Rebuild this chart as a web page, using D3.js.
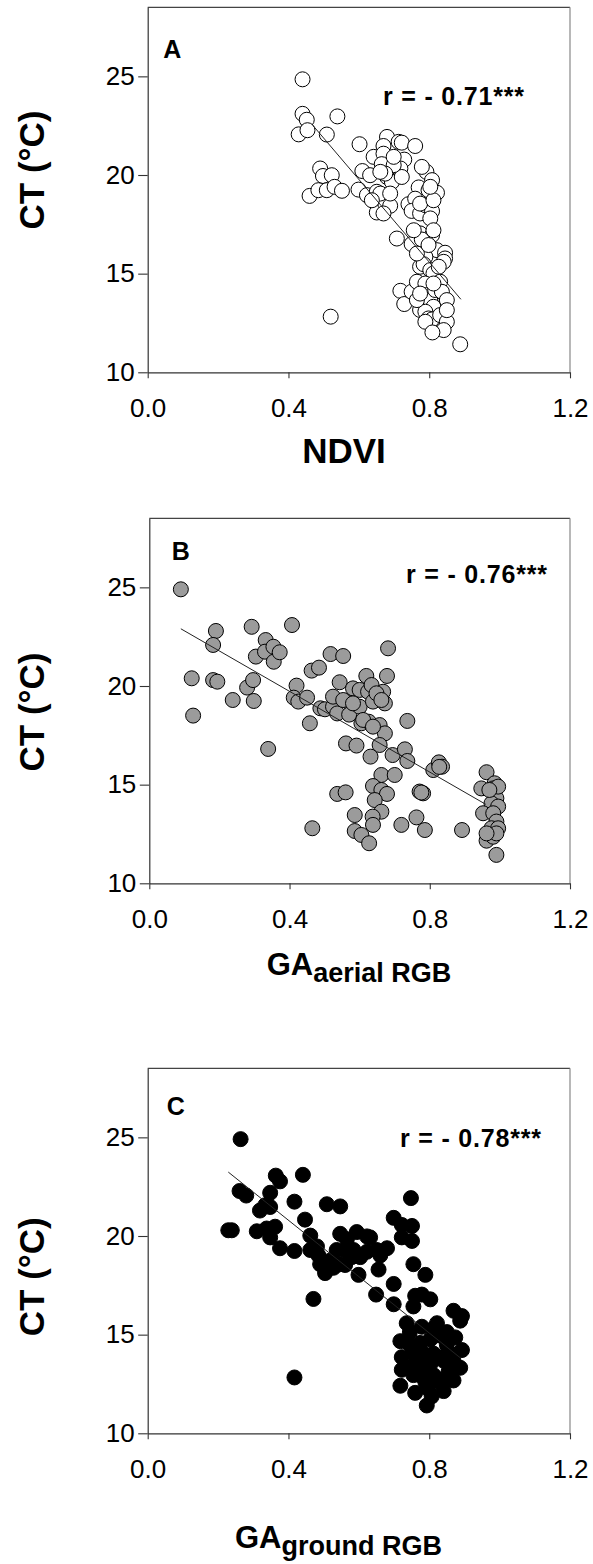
<!DOCTYPE html>
<html>
<head>
<meta charset="utf-8">
<script src="https://cdn.jsdelivr.net/npm/d3@7"></script>
<style>
body { margin: 0; background: #fff; }
svg { display: block; }
text { font-family: "Liberation Sans", Arial, sans-serif; fill: #000; }
</style>
</head>
<body>
<svg id="chart" width="593" height="1564"></svg>
<script>

// tick values shared by the three panels
var xTicks = [0, 0.4, 0.8, 1.2];
var yTicks = [10, 15, 20, 25];

// panel A: NDVI vs canopy temperature
var pointsA = [[0.44,24.85],[0.44,23.1],[0.452,22.8],[0.539,22.97],[0.429,22.06],[0.454,22.27],[0.509,22.05],[0.602,21.56],[0.68,21.93],[0.67,21.47],[0.713,21.68],[0.722,21.64],[0.76,21.47],[0.642,20.92],[0.729,20.78],[0.67,21.08],[0.49,20.33],[0.498,19.95],[0.523,19.99],[0.46,18.94],[0.485,19.23],[0.509,19.23],[0.531,19.4],[0.552,19.2],[0.61,20.2],[0.632,19.99],[0.599,19.26],[0.623,18.98],[0.651,19.15],[0.665,20.55],[0.68,19.9],[0.694,19.65],[0.661,18.77],[0.651,18.1],[0.675,18.55],[0.689,18.44],[0.718,20.33],[0.722,19.9],[0.699,20.5],[0.792,20.16],[0.808,19.74],[0.77,19.37],[0.798,19.23],[0.822,19.1],[0.741,18.52],[0.76,18.8],[0.75,18.18],[0.774,18.05],[0.789,18.47],[0.808,18.17],[0.803,17.8],[0.774,17.04],[0.808,16.95],[0.708,16.78],[0.75,16.5],[0.779,16.73],[0.822,16.19],[0.845,16.06],[0.845,15.77],[0.841,15.6],[0.789,15.85],[0.774,15.35],[0.784,15.48],[0.803,15.18],[0.812,15.01],[0.718,14.13],[0.729,13.46],[0.75,14.08],[0.765,14.59],[0.774,13.16],[0.789,14.5],[0.792,13.91],[0.803,13.66],[0.817,14.17],[0.831,14.59],[0.836,14.08],[0.841,13.32],[0.812,13.32],[0.789,13.07],[0.798,12.73],[0.808,12.68],[0.789,12.56],[0.831,12.9],[0.85,12.56],[0.841,12.14],[0.809,12.02],[0.888,11.42],[0.52,12.82],[0.765,13.66],[0.85,13.66],[0.765,16.02],[0.756,17.2],[0.798,16.45],[0.812,17.2],[0.661,19.06],[0.689,19.06],[0.675,20.07],[0.827,15.35],[0.85,13.15],[0.774,13.99],[0.812,14.5],[0.774,18.55],[0.812,18.72],[0.779,20.41],[0.803,19.4],[0.699,20.92],[0.661,20.16],[0.637,18.72],[0.67,18.05]];

// panel B: GA aerial RGB vs canopy temperature
var pointsB = [[0.09,24.9],[0.19,22.79],[0.182,22.08],[0.121,20.39],[0.182,20.3],[0.194,20.22],[0.125,18.5],[0.238,19.29],[0.279,19.92],[0.296,20.3],[0.298,19.24],[0.292,23.0],[0.332,22.33],[0.304,21.49],[0.33,21.74],[0.354,21.99],[0.355,21.23],[0.372,21.71],[0.339,16.81],[0.407,23.09],[0.42,20.02],[0.412,19.41],[0.425,19.21],[0.45,19.41],[0.463,20.78],[0.484,20.93],[0.458,18.11],[0.465,12.79],[0.488,18.87],[0.501,18.82],[0.517,21.62],[0.553,21.52],[0.524,18.95],[0.536,18.61],[0.543,20.19],[0.567,19.21],[0.57,18.55],[0.581,19.88],[0.6,19.8],[0.6,18.95],[0.619,20.51],[0.624,19.71],[0.634,20.05],[0.638,19.21],[0.605,18.11],[0.626,18.19],[0.657,18.02],[0.672,17.6],[0.667,19.71],[0.672,19.12],[0.678,20.51],[0.681,21.91],[0.657,17.01],[0.561,17.09],[0.591,16.98],[0.631,16.42],[0.694,16.5],[0.729,16.79],[0.736,18.23],[0.736,16.2],[0.662,15.49],[0.7,15.49],[0.638,14.93],[0.662,14.73],[0.678,14.53],[0.643,14.22],[0.662,13.63],[0.637,13.38],[0.638,12.96],[0.536,14.53],[0.56,14.61],[0.586,13.46],[0.586,12.65],[0.605,12.45],[0.627,12.03],[0.719,12.96],[0.762,13.34],[0.771,14.65],[0.781,14.56],[0.786,12.7],[0.81,15.74],[0.826,16.13],[0.835,15.91],[0.892,12.7],[0.962,15.63],[0.947,14.81],[0.985,15.07],[0.981,14.81],[0.99,14.31],[0.976,14.05],[0.995,13.89],[0.952,13.55],[0.981,13.55],[0.99,13.13],[0.976,12.79],[0.995,12.79],[0.962,12.16],[0.981,12.36],[0.99,11.44],[0.99,12.53],[0.995,14.9],[0.97,14.73],[0.962,12.53],[0.524,19.46],[0.553,19.29],[0.581,19.12],[0.61,18.28],[0.638,17.94],[0.648,19.63],[0.662,19.29],[0.827,15.9],[0.776,14.6]];

// panel C: GA ground RGB vs canopy temperature
var pointsC = [[0.264,24.91],[0.229,20.29],[0.239,20.29],[0.261,22.28],[0.28,22.05],[0.31,20.24],[0.319,21.29],[0.334,21.56],[0.348,22.19],[0.348,21.47],[0.348,19.93],[0.362,20.47],[0.364,23.06],[0.376,22.77],[0.376,19.38],[0.417,21.74],[0.417,19.24],[0.441,23.1],[0.447,20.83],[0.462,20.02],[0.462,19.29],[0.471,16.81],[0.417,12.83],[0.485,19.02],[0.49,18.57],[0.504,18.12],[0.509,21.61],[0.547,21.5],[0.518,18.75],[0.537,19.29],[0.547,20.11],[0.561,19.29],[0.561,18.53],[0.566,19.84],[0.594,20.2],[0.599,18.03],[0.623,19.98],[0.632,19.93],[0.623,19.2],[0.651,19.29],[0.656,18.3],[0.661,19.02],[0.68,19.38],[0.649,17.03],[0.699,17.57],[0.699,16.54],[0.699,20.92],[0.722,20.56],[0.722,19.93],[0.751,20.51],[0.751,19.75],[0.748,21.92],[0.755,18.57],[0.76,16.97],[0.755,16.43],[0.779,17.03],[0.789,18.03],[0.803,16.79],[0.869,16.21],[0.893,15.94],[0.888,15.71],[0.718,14.67],[0.736,15.58],[0.745,14.49],[0.722,13.86],[0.722,13.22],[0.718,12.41],[0.755,12.95],[0.76,12.05],[0.774,13.68],[0.779,15.4],[0.789,12.59],[0.793,11.41],[0.798,12.23],[0.812,14.04],[0.822,15.58],[0.822,12.77],[0.831,14.95],[0.836,13.86],[0.841,12.14],[0.85,14.49],[0.855,13.13],[0.869,12.68],[0.874,14.86],[0.893,14.22],[0.888,13.32],[0.803,14.76],[0.803,13.5],[0.774,14.58],[0.86,14.04],[0.812,15.31],[0.76,13.5],[0.774,12.95],[0.812,12.95],[0.841,13.68],[0.736,13.32],[0.745,15.13],[0.831,12.59],[0.85,15.13],[0.755,14.04],[0.784,14.04],[0.807,11.87],[0.585,19.29],[0.604,18.93],[0.547,18.57],[0.528,18.39],[0.58,18.93],[0.481,19.47],[0.338,20.38],[0.822,13.86],[0.789,13.13],[0.869,13.68]];

// fitted regression lines (end points)
var fitA = [[0.47, 22.5], [0.89, 13.7]];
var fitB = [[0.09, 22.9], [0.96, 14.0]];
var fitC = [[0.229, 23.24], [0.89, 13.8]];

var rLabels = ["r = - 0.71***", "r = - 0.76***", "r = - 0.78***"];
var panelLetters = ["A", "B", "C"];
var yTitle = "CT (°C)";
var xTitleMain = ["NDVI", "GA", "GA"];
var xTitleSub = ["", "aerial RGB", "ground RGB"];

// layout of each panel on the page
var panels = [
	{ pts: pointsA, fit: fitA, fill: "#ffffff", left: 147.7, top: 7.3, bottom: 372.3,
		letter: [163.3, 58.3], rPos: [383, 104.7], yTitleY: 170, xTitle: [344, 463.3], mid: true },
	{ pts: pointsB, fit: fitB, fill: "#9b9b9b", left: 149.3, top: 518.3, bottom: 883.3,
		letter: [171.7, 560], rPos: [406, 583.3], yTitleY: 712, xTitle: [266.7, 975], mid: false },
	{ pts: pointsC, fit: fitC, fill: "#000000", left: 147.7, top: 1068.3, bottom: 1433.3,
		letter: [166.7, 1115], rPos: [400, 1147.3], yTitleY: 1276.7, xTitle: [235, 1548.3], mid: false }
];

var right = 570;
var svg = d3.select("#chart");

panels.forEach(function(p, i) {

	var x = d3.scaleLinear().domain([0, 1.2]).range([p.left, right]);
	var y = d3.scaleLinear().domain([10, 28.5]).range([p.bottom, p.top]);

	var g = svg.append("g").attr("class", "panel" + i);

	//frame: top and right are drawn lighter than the axes
	g.append("line").attr("x1", p.left).attr("x2", right).attr("y1", p.top).attr("y2", p.top)
		.attr("stroke", "#444").attr("stroke-width", 1.2);
	g.append("line").attr("x1", right).attr("x2", right).attr("y1", p.top).attr("y2", p.bottom)
		.attr("stroke", "#888").attr("stroke-width", 1.2);

	var xAxis = d3.axisBottom(x)
		.tickValues(xTicks)
		.tickSize(6)
		.tickSizeOuter(0)
		.tickPadding(20)
		.tickFormat(d3.format(".1f"));

	var yAxis = d3.axisLeft(y)
		.tickValues(yTicks)
		.tickSize(9.5)
		.tickSizeOuter(0)
		.tickPadding(3.5)
		.tickFormat(d3.format("d"));

	var gx = g.append("g")
		.attr("transform", "translate(0," + p.bottom + ")")
		.call(xAxis);

	var gy = g.append("g")
		.attr("transform", "translate(" + p.left + ",0)")
		.call(yAxis);

	[gx, gy].forEach(function(ax) {
		ax.select(".domain").attr("stroke", "#333").attr("stroke-width", 1.2);
		ax.selectAll(".tick line").attr("stroke", "#333").attr("stroke-width", 1.1);
		ax.selectAll(".tick text")
			.attr("fill", "#000")
			.style("font-size", "26px")
			.style("font-family", "'Liberation Sans', Arial, sans-serif");
	});

	//points
	g.append("g")
		.selectAll("circle")
		.data(p.pts)
		.enter()
		.append("circle")
		.attr("cx", d => x(d[0]))
		.attr("cy", d => y(d[1]))
		.attr("r", 7.5)
		.attr("fill", p.fill)
		.attr("stroke", "#000")
		.attr("stroke-width", 1);

	//regression line
	g.append("line")
		.attr("x1", x(p.fit[0][0])).attr("y1", y(p.fit[0][1]))
		.attr("x2", x(p.fit[1][0])).attr("y2", y(p.fit[1][1]))
		.attr("stroke", "#222")
		.attr("stroke-width", 1);

	//panel letter
	g.append("text")
		.attr("x", p.letter[0])
		.attr("y", p.letter[1])
		.attr("font-size", 25)
		.attr("font-weight", "bold")
		.text(panelLetters[i]);

	//correlation label
	g.append("text")
		.attr("x", p.rPos[0])
		.attr("y", p.rPos[1])
		.attr("font-size", 25)
		.attr("font-weight", "bold")
		.attr("letter-spacing", 0.8)
		.text(rLabels[i]);

	//y title
	g.append("text")
		.attr("transform", "translate(43.5," + p.yTitleY + ") rotate(-90)")
		.attr("text-anchor", "middle")
		.attr("font-size", 35)
		.attr("font-weight", "bold")
		.text(yTitle);

	//x title, with subscript for the GA panels
	var xt = g.append("text")
		.attr("x", p.xTitle[0])
		.attr("y", p.xTitle[1])
		.attr("font-weight", "bold")
		.attr("text-anchor", p.mid ? "middle" : "start");

	if (p.mid) {
		xt.attr("font-size", 35).text(xTitleMain[i]);
	} else {
		xt.append("tspan").attr("font-size", 31).text(xTitleMain[i]);
		xt.append("tspan").attr("font-size", 27).attr("dy", 7).text(xTitleSub[i]);
	}

});

</script>
</body>
</html>
